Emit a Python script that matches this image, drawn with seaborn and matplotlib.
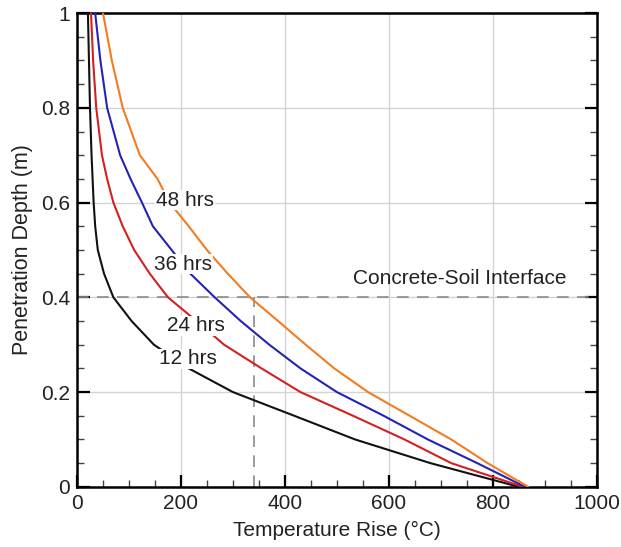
import pandas as pd
import matplotlib
matplotlib.use("Agg")
import matplotlib.pyplot as plt
import seaborn as sns
from matplotlib.ticker import MultipleLocator

# Dados (profundidade comum para as quatro curvas)
DEPTH = [0.0, 0.05, 0.1, 0.15, 0.2, 0.25, 0.3, 0.35, 0.4, 0.45, 0.5,
         0.55, 0.6, 0.65, 0.7, 0.8, 0.9, 1.0]
TEMP_12H = [850, 680, 535, 418, 300, 215, 148, 105, 70, 52, 40,
            35, 32, 30, 28, 25, 23, 21]
TEMP_24H = [858, 720, 630, 531, 430, 355, 283, 230, 175, 140, 110,
            88, 70, 58, 48, 37, 31, 27]
TEMP_36H = [862, 770, 675, 590, 500, 430, 370, 315, 265, 218, 182,
            146, 125, 103, 83, 58, 45, 35]
TEMP_48H = [868, 790, 720, 640, 560, 495, 440, 387, 333, 290, 250,
            215, 178, 155, 121, 88, 67, 50]

SERIES = ["12 hrs", "24 hrs", "36 hrs", "48 hrs"]
CORES = {"12 hrs": "#111111", "24 hrs": "#d42020",
         "36 hrs": "#2323b4", "48 hrs": "#f47b20"}

# posicoes dos rotulos (x, y em dados)
LABEL_POS = {"48 hrs": (208, 0.605), "36 hrs": (204, 0.47),
             "24 hrs": (228, 0.34), "12 hrs": (213, 0.27)}
INTERFACE_DEPTH = 0.4
INTERFACE_TEMP = 340

sns.set_theme(style="white")
plt.rcParams['font.family'] = ['Liberation Sans', 'DejaVu Sans']

frames = []
for nome, temps in zip(SERIES, [TEMP_12H, TEMP_24H, TEMP_36H, TEMP_48H]):
    frames.append(pd.DataFrame({"temp": temps, "depth": DEPTH, "serie": nome}))
df = pd.concat(frames, ignore_index=True)

fig = plt.figure(figsize=(6.21, 5.47), dpi=100)
ax = fig.add_axes([0.124, 0.110, 0.837, 0.866])

ax.grid(True, which="major", color="#d4d4d4", linewidth=1.0, zorder=0)
ax.set_axisbelow(True)

sns.lineplot(data=df, x="temp", y="depth", hue="serie", palette=CORES,
             sort=False, estimator=None, linewidth=1.5, legend=False, ax=ax, zorder=3)

# interface concreto-solo
ax.axhline(INTERFACE_DEPTH, color="#8a8a8a", linewidth=1.2, dashes=(7, 5), zorder=2)
ax.plot([INTERFACE_TEMP, INTERFACE_TEMP], [0, INTERFACE_DEPTH], color="#8a8a8a",
        linewidth=1.2, dashes=(7, 5), zorder=2)
ax.text(736, 0.44, "Concrete-Soil Interface", fontsize=15, ha="center", va="center",
        color="#222222")

for nome, (tx, ty) in LABEL_POS.items():
    ax.text(tx, ty, nome, fontsize=15, ha="center", va="center", color="#222222",
            zorder=5, bbox=dict(facecolor="white", edgecolor="none", pad=0.5))

ax.set_xlim(0, 1000)
ax.set_ylim(0, 1)
ax.xaxis.set_major_locator(MultipleLocator(200))
ax.xaxis.set_minor_locator(MultipleLocator(50))
ax.yaxis.set_major_locator(MultipleLocator(0.2))
ax.yaxis.set_minor_locator(MultipleLocator(0.05))
ax.xaxis.set_major_formatter(plt.FuncFormatter(lambda v, p: f"{v:g}"))
ax.yaxis.set_major_formatter(plt.FuncFormatter(lambda v, p: f"{v:g}"))

ax.tick_params(which="both", direction="in", left=True, bottom=True, right=True,
               top=False, labelsize=15, colors="#222222")
ax.tick_params(which="major", length=9, width=1.6, color="black", pad=5)
ax.tick_params(which="minor", length=5, width=1.0, color="#444444")

for s in ax.spines.values():
    s.set_color("black")
    s.set_linewidth(1.8)

ax.set_xlabel("Temperature Rise (°C)", fontsize=15, color="#222222", labelpad=6)
ax.set_ylabel("Penetration Depth (m)", fontsize=15.5, color="#222222", labelpad=6)

plt.savefig("out.png", dpi=100)
